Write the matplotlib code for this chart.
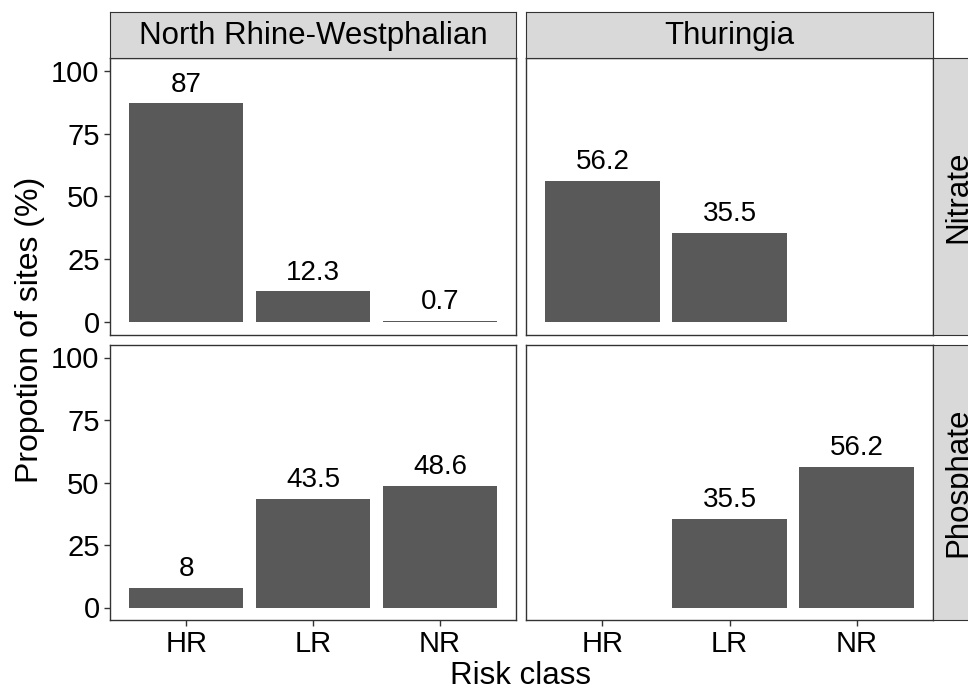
import matplotlib.pyplot as plt
import numpy as np

plt.rcParams['font.family'] = ['Liberation Sans', 'DejaVu Sans']

# data (NaN = no bar)
classes = ['HR', 'LR', 'NR']
regions = ['North Rhine-Westphalian', 'Thuringia']
nutrients = ['Nitrate', 'Phosphate']
nitrate_nrw = [87, 12.3, 0.7]
nitrate_thu = [56.2, 35.5, np.nan]
phosphate_nrw = [8, 43.5, 48.6]
phosphate_thu = [np.nan, 35.5, 56.2]
values = [[nitrate_nrw, nitrate_thu], [phosphate_nrw, phosphate_thu]]
yticks = [0, 25, 50, 75, 100]

W, H = 968, 691
fig = plt.figure(figsize=(W / 100, H / 100), dpi=100)
fig.patch.set_facecolor('white')


def px(x0, y0, x1, y1):
    return [x0 / W, 1 - y1 / H, (x1 - x0) / W, (y1 - y0) / H]


col_x = [(110, 516), (526, 933)]
row_y = [(58, 335), (345, 620)]
bar_col = '#595959'
strip_col = '#D9D9D9'

for r in range(2):
    for c in range(2):
        ax = fig.add_axes(px(col_x[c][0], row_y[r][0], col_x[c][1], row_y[r][1]))
        vals = values[r][c]
        xs = np.arange(len(classes))
        ax.bar(xs, vals, width=0.9, color=bar_col, edgecolor='none')
        for x, v in zip(xs, vals):
            if not np.isnan(v):
                ax.annotate(f'{v:g}', (x, v), xytext=(0, 4), textcoords='offset points',
                            ha='center', va='bottom', fontsize=20)
        ax.set_xlim(-0.6, 2.6)
        ax.set_ylim(-5, 105)
        ax.set_yticks(yticks)
        ax.set_xticks(xs)
        ax.set_xticklabels(classes)
        for s in ax.spines.values():
            s.set_color('#333333')
            s.set_linewidth(1.0)
        ax.tick_params(axis='both', colors='#333333', labelcolor='black',
                       labelsize=21, length=4, width=1)
        if c == 1:
            ax.tick_params(axis='y', left=False, labelleft=False)
        if r == 0:
            ax.tick_params(axis='x', bottom=False, labelbottom=False)

# column strips
for c in range(2):
    sax = fig.add_axes(px(col_x[c][0], 12, col_x[c][1], 58))
    sax.set_facecolor(strip_col)
    sax.set_xticks([])
    sax.set_yticks([])
    for s in sax.spines.values():
        s.set_color('#333333')
    sax.text(0.5, 0.47, regions[c], ha='center', va='center', fontsize=22.5,
             transform=sax.transAxes)

# row strips (cut off at the right edge)
for r in range(2):
    sax = fig.add_axes(px(933, row_y[r][0], 979, row_y[r][1]))
    sax.set_facecolor(strip_col)
    sax.set_xticks([])
    sax.set_yticks([])
    for s in sax.spines.values():
        s.set_color('#333333')
    sax.text(0.55, 0.5, nutrients[r], ha='center', va='center', fontsize=22.5,
             rotation=90, transform=sax.transAxes)

fig.text(30 / W, 1 - 330 / H, 'Propotion of sites (%)', rotation=90,
         ha='center', va='center', fontsize=23)
fig.text(521 / W, 1 - 676 / H, 'Risk class', ha='center', va='center', fontsize=22.5)

fig.savefig('out.png', dpi=100)
